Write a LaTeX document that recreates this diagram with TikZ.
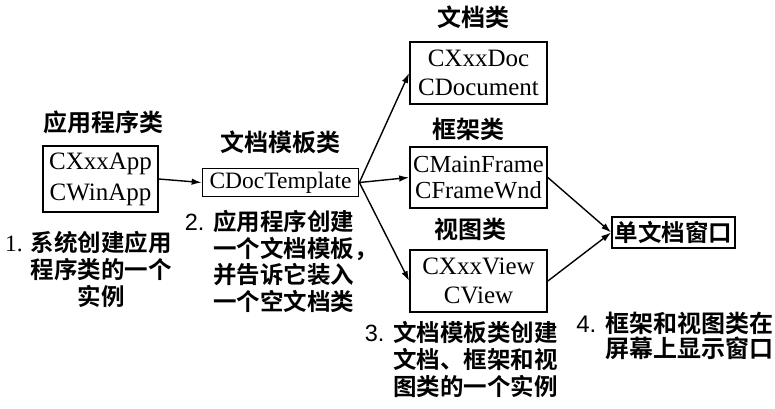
\documentclass[tikz,border=0pt]{standalone}
\usepackage{fontspec}
\setmainfont{Liberation Serif}
\newfontfamily\cjk{Noto Sans CJK SC Bold}
\newfontfamily\numsans{Liberation Sans}
\usetikzlibrary{arrows.meta}
\begin{document}
\begin{tikzpicture}[x=1pt,y=-1pt,
  box/.style={draw,line width=1.7pt,inner sep=0pt,align=center,font=\fontsize{25}{29}\selectfont},
  lbl/.style={inner sep=0pt,anchor=base,font=\cjk\fontsize{24}{28}\selectfont},
  annc/.style={inner sep=0pt,anchor=base,font=\cjk\fontsize{23.5}{28}\selectfont},
  ann/.style={inner sep=0pt,anchor=base west,font=\cjk\fontsize{23.5}{28}\selectfont},
  arr/.style={line width=1.4pt,-{Latex[length=10pt,width=6.5pt]}}]
\useasboundingbox (0,0) rectangle (775,408);
% boxes
\node[box,minimum width=115pt,minimum height=66pt,font=\fontsize{25}{31}\selectfont] (app) at (100.5,179) {CXxxApp\\CWinApp};
\node[box,minimum width=156pt,minimum height=28pt,font=\fontsize{23.5}{28}\selectfont] (tpl) at (280.5,182.5) {CDocTemplate};
\node[box,minimum width=137pt,minimum height=62pt] (doc) at (478.5,73) {CXxxDoc\\CDocument};
\node[box,minimum width=137pt,minimum height=61pt,font=\fontsize{24.5}{26}\selectfont] (frame) at (478.5,177.5) {CMainFrame\\CFrameWnd};
\node[box,minimum width=137pt,minimum height=62pt] (view) at (478.5,281) {CXxxView\\CView};
\node[box,font=\cjk\fontsize{23.5}{28}\selectfont,minimum width=123pt,minimum height=31pt] (win) at (673.5,232.5) {单文档窗口};
% labels
\node[lbl] (lapp) at (103,131.5) {应用程序类};
\node[lbl] (ltpl) at (280,151.5) {文档模板类};
\node[lbl] (ldoc) at (473,26.5) {文档类};
\node[lbl] (lframe) at (468,138.5) {框架类};
\node[lbl] (lview) at (470,238.5) {视图类};
% connectors
\draw[arr] (app.east) -- (tpl.west);
\draw[arr] (tpl.east) -- (doc.west);
\draw[arr] (tpl.east) -- (frame.west);
\draw[arr] (tpl.east) -- (view.west);
\draw[arr] (frame.east) -- (win.west);
\draw[arr] (view.east) -- (win.west);
% annotations
\node[annc] (a1a) at (101,251.5) {\llap{\rmfamily 1. }系统创建应用};
\node[annc] (a1b) at (101,278.5) {程序类的一个};
\node[annc] (a1c) at (101,305.5) {实例};
\node[ann] (a2a) at (213,230.5) {\llap{\numsans 2. }应用程序创建};
\node[ann] (a2b) at (213,257) {一个文档模板，};
\node[ann] (a2c) at (213,283.5) {并告诉它装入};
\node[ann] (a2d) at (213,310) {一个空文档类};
\node[ann] (a3a) at (393,341.5) {\llap{\numsans 3. }文档模板类创建};
\node[ann] (a3b) at (393,368.5) {文档、框架和视};
\node[ann] (a3c) at (393,395.5) {图类的一个实例};
\node[ann,font=\cjk\fontsize{24}{28}\selectfont] (a4a) at (605,332.5) {\llap{\numsans 4. }框架和视图类在};
\node[ann,font=\cjk\fontsize{24}{28}\selectfont] (a4b) at (605,357.5) {屏幕上显示窗口};
\end{tikzpicture}
\end{document}
